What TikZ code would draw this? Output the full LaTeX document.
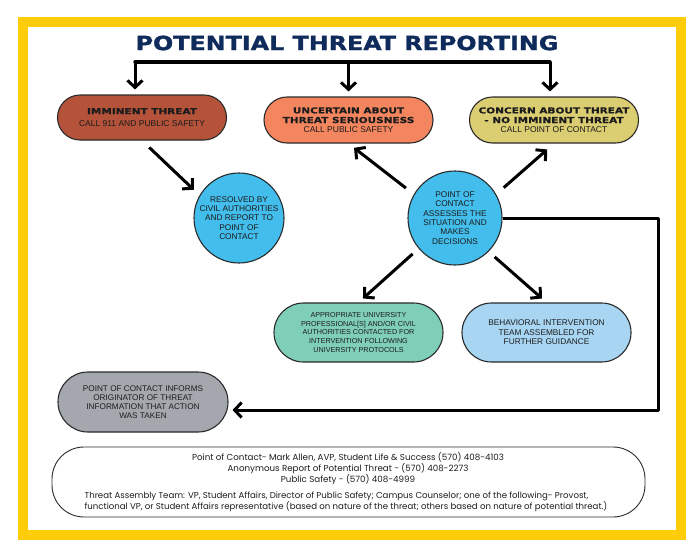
\documentclass[tikz,border=0pt]{standalone}
\usepackage{fontspec}
\setmainfont{Liberation Sans}
\newfontfamily\headfont{DejaVu Sans}[FakeStretch=1.28, FakeBold=1]
\newfontfamily\titlefont{DejaVu Sans}[FakeStretch=1.22, FakeBold=1.5]
\newfontfamily\footfont{Poppins}
\usetikzlibrary{arrows.meta, positioning, shapes.misc, calc}
\definecolor{ink}{HTML}{1C1C1C}
\definecolor{edge}{HTML}{2A2A2A}
\definecolor{navy}{HTML}{0E2B5C}
\definecolor{frameyellow}{HTML}{FFCC0A}
\definecolor{brick}{HTML}{B4523A}
\definecolor{salmon}{HTML}{F4865F}
\definecolor{khaki}{HTML}{DBCD72}
\definecolor{sky}{HTML}{43BDEB}
\definecolor{mint}{HTML}{7FCFB8}
\definecolor{paleblue}{HTML}{A8D5F2}
\definecolor{slate}{HTML}{A4A8AE}
\newcommand{\hd}[1]{{\headfont\bfseries\fontsize{8.2}{9.6}\selectfont #1}}

\begin{document}
\begin{tikzpicture}[
    x=1pt, y=-1pt,
    every node/.style={text=ink},
    pill/.style={rounded rectangle, draw=edge, line width=1.1pt,
                 minimum width=173pt, minimum height=46pt,
                 align=center, inner sep=2pt},
    disc/.style={circle, draw=edge, line width=1.1pt, fill=sky,
                 align=center, inner sep=0pt,
                 font=\fontsize{8.3}{9.4}\selectfont},
    arr/.style={-{Straight Barb[length=7pt, width=15pt]}, line width=3pt,
                draw=black},
    bar/.style={line width=3.5pt, draw=black},
    frame/.style={draw=frameyellow, line width=10pt},
]
\useasboundingbox (0,0) rectangle (700,557);

% ---------------------------------------------------------- frame and title
\draw[frame] (23,22) rectangle (681,535);
\node (title) at (347,43)
    {\titlefont\bfseries\fontsize{19.5}{20}\selectfont\color{navy}POTENTIAL THREAT REPORTING};

% ---------------------------------------------------------- first row
\node[pill, fill=brick, minimum height=45pt,
      font=\fontsize{8.5}{11}\selectfont] (imm) at (142,117.5)
    {\hd{IMMINENT THREAT}\\[1.5pt]CALL 911 AND PUBLIC SAFETY};
\node[pill, fill=salmon, font=\fontsize{8.5}{9.6}\selectfont] (unc) at (348.5,120)
    {\hd{UNCERTAIN ABOUT}\\\hd{THREAT SERIOUSNESS}\\CALL PUBLIC SAFETY};
\node[pill, fill=khaki, font=\fontsize{8.5}{9.6}\selectfont] (conc) at (554,120)
    {\hd{CONCERN ABOUT THREAT}\\\hd{- NO IMMINENT THREAT}\\CALL POINT OF CONTACT};

% ---------------------------------------------------------- circles
\node[disc, minimum size=90pt] (res) at (239,218)
    {RESOLVED BY\\CIVIL AUTHORITIES\\AND REPORT TO\\POINT OF\\CONTACT};
\node[disc, minimum size=94pt] (poc) at (455,218)
    {POINT OF\\CONTACT\\ASSESSES THE\\SITUATION AND\\MAKES\\DECISIONS};

% ---------------------------------------------------------- lower row
\node[pill, fill=mint, minimum height=59pt,
      font=\fontsize{7.2}{8.9}\selectfont] (appr) at (358.5,332.5)
    {APPROPRIATE UNIVERSITY\\PROFESSIONAL[S] AND/OR CIVIL\\AUTHORITIES CONTACTED FOR\\INTERVENTION FOLLOWING\\UNIVERSITY PROTOCOLS};
\node[pill, fill=paleblue, minimum height=59pt,
      font=\fontsize{8.3}{9.4}\selectfont] (beh) at (546.5,332.5)
    {BEHAVIORAL INTERVENTION\\TEAM ASSEMBLED FOR\\FURTHER GUIDANCE};
\node[pill, fill=slate, minimum width=174pt, minimum height=60pt,
      font=\fontsize{8.2}{8.9}\selectfont] (info) at (143,402)
    {POINT OF CONTACT INFORMS\\ORIGINATOR OF THREAT\\INFORMATION THAT ACTION\\WAS TAKEN};

% ---------------------------------------------------------- top bracket
\coordinate (brL) at (135,62);
\coordinate (brR) at (550,62);
\draw[bar, line cap=round] (brL) -- (brR);
\draw[arr, shorten >=5pt] (brL) -- (brL |- imm.north);
\draw[arr, shorten >=5pt] (unc.north |- brL) -- (unc.north);
\draw[arr, shorten >=5pt] (brR) -- (brR |- conc.north);

% ---------------------------------------------------------- connectors
\draw[arr, shorten <=10pt, shorten >=8pt] (imm.south) -- (res.150);
\draw[arr, shorten <=10pt, shorten >=7pt] (poc.150) -- (unc.south);
\draw[arr, shorten <=10pt, shorten >=9pt] (poc.30) -- (conc.south);
\draw[arr, shorten <=8pt, shorten >=6pt] (poc.220) -- (appr.north);
\draw[arr, shorten <=8pt, shorten >=6pt] (poc.-45) -- (beh.north);

% back to the originator
\coordinate (loop) at (658,410);
\draw[arr, line join=round, shorten >=4pt]
    (poc.east) -- (poc.east -| loop) -- (loop) -- (info.east |- loop);

% ---------------------------------------------------------- contacts
\draw[draw=edge, line width=0.9pt, rounded corners=32pt]
    (52,447) rectangle (645,517);
\node[align=center, font=\footfont\fontsize{8.7}{11}\selectfont] (contacts) at (348,469)
    {Point of Contact- Mark Allen, AVP, Student Life \& Success (570) 408-4103\\
     Anonymous Report of Potential Threat - (570) 408-2273\\
     Public Safety - (570) 408-4999};
\node[align=left, font=\footfont\fontsize{8.6}{11.5}\selectfont] (team) at (346,502)
    {Threat Assembly Team: VP, Student Affairs, Director of Public Safety; Campus Counselor; one of the following- Provost,\\
     functional VP, or Student Affairs representative (based on nature of the threat; others based on nature of potential threat.)};

\end{tikzpicture}
\end{document}
